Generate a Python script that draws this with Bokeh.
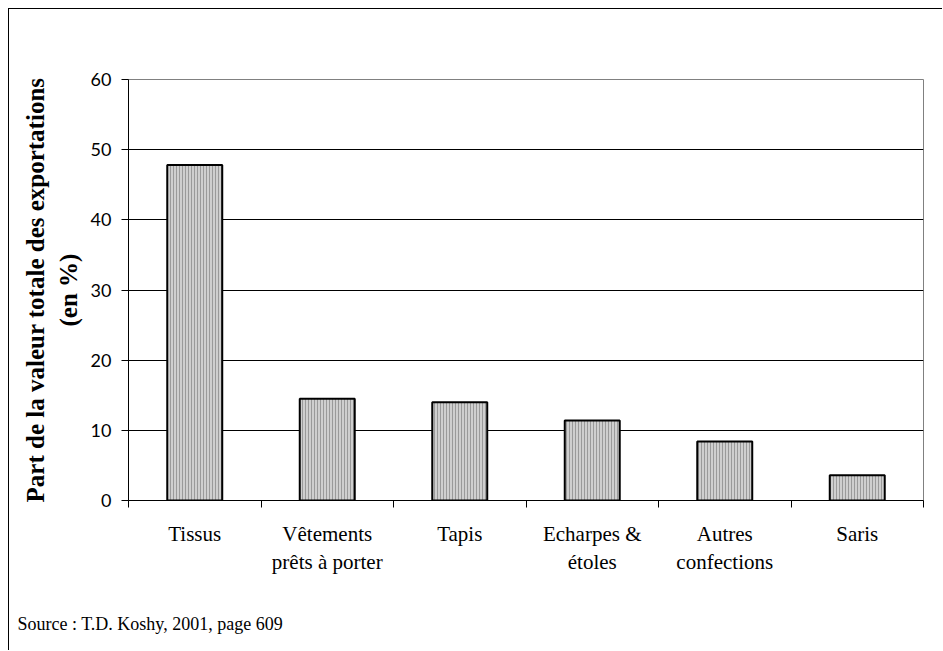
from bokeh.plotting import figure
from bokeh.models import (Range1d, FactorRange, LinearAxis, CategoricalAxis,
                          FixedTicker, Title)
from bokeh.embed import file_html
from bokeh.resources import INLINE

categories = ["Tissus", "Vêtements\nprêts à porter", "Tapis",
              "Echarpes &\nétoles", "Autres\nconfections", "Saris"]
values = [47.8, 14.5, 14.0, 11.4, 8.4, 3.6]
y_ticks = [0, 10, 20, 30, 40, 50, 60]
y_label = "Part de la valeur totale des exportations\n(en %)"
source_text = "Source : T.D. Koshy, 2001, page 609"

SERIF = "'Liberation Serif', serif"
SANS = "Lato"

p = figure(width=934, height=642, output_backend="svg", toolbar_location=None,
           x_range=FactorRange(factors=categories, range_padding=0,
                               factor_padding=0),
           y_range=Range1d(0, 60),
           x_axis_location=None, y_axis_location=None,
           min_border_left=119, min_border_right=20,
           min_border_top=70, min_border_bottom=151)

p.styles = {"margin-top": "8px", "margin-left": "8px",
            "border-top": "1px solid black", "border-left": "1px solid black"}

p.outline_line_color = "#808080"
p.outline_line_width = 1
p.background_fill_color = "white"
p.border_fill_color = "white"

p.xgrid.visible = False
p.ygrid.ticker = FixedTicker(ticks=y_ticks)
p.ygrid.grid_line_color = "black"
p.ygrid.grid_line_width = 1

# y axis
yax = LinearAxis(ticker=FixedTicker(ticks=y_ticks))
yax.axis_label = y_label
yax.axis_label_text_font = SERIF
yax.axis_label_text_font_style = "bold"
yax.axis_label_text_font_size = "25px"
yax.axis_label_text_color = "black"
yax.axis_label_standoff = 6
yax.major_label_text_font = SANS
yax.major_label_text_font_size = "18px"
yax.major_label_text_color = "black"
yax.major_label_standoff = 10
yax.major_tick_in = 0
yax.major_tick_out = 7
yax.minor_tick_line_color = None
yax.axis_line_color = "black"
yax.major_tick_line_color = "black"
p.add_layout(yax, "left")

# x axis: tick marks at category boundaries (synthetic coordinates)
bounds = list(range(len(categories) + 1))
xax = LinearAxis(ticker=FixedTicker(ticks=bounds))
xax.major_label_overrides = {i: "" for i in bounds}
xax.major_label_text_font_size = "1px"
xax.major_label_standoff = 0
xax.major_tick_in = 0
xax.major_tick_out = 7
xax.minor_tick_line_color = None
xax.axis_line_color = "black"
xax.major_tick_line_color = "black"
p.add_layout(xax, "below")

# x axis: category labels
cax = CategoricalAxis()
cax.axis_line_color = None
cax.major_tick_line_color = None
cax.minor_tick_line_color = None
cax.major_label_text_font = SERIF
cax.major_label_text_font_size = "21px"
cax.major_label_text_color = "black"
cax.major_label_standoff = 8
p.add_layout(cax, "below")

p.vbar(x=categories, top=values, width=0.415, bottom=0,
       fill_color="#cfcfcf", line_color="black", line_width=2,
       hatch_pattern="vertical_line", hatch_color="#9a9a9a",
       hatch_scale=3, hatch_weight=1)

has_standoff = "standoff" in Title.properties()

# blank spacer panel pushing the source note towards the bottom
spacer = Title(text=" ", text_font_size="14px")
if has_standoff:
    spacer.standoff = 0
p.add_layout(spacer, "below")

src = Title(text=source_text, align="left", offset=-111,
            text_font=SERIF, text_font_size="18px", text_font_style="normal",
            text_color="black")
if has_standoff:
    src.standoff = 33
p.add_layout(src, "below")

open("out.html", "w").write(file_html(p, INLINE))
